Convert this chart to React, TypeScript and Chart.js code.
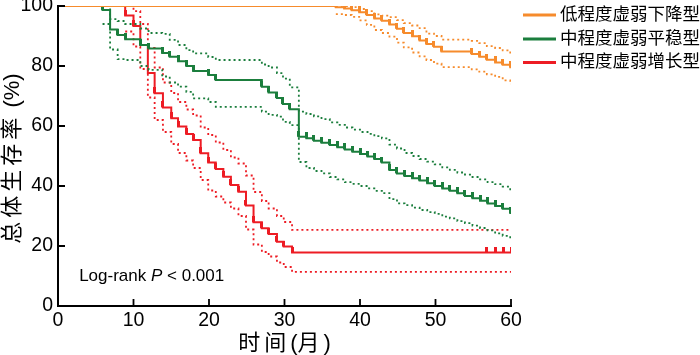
import React, { useEffect, useRef } from 'react';
import { Chart, registerables } from 'chart.js';

Chart.register(...registerables);

const W = 700;
const H = 355;

const xTickValues = [0, 10, 20, 30, 40, 50, 60];
const yTickValues = [0, 20, 40, 60, 80, 100];

const xTitle = '时间(月)';
const yTitle = '总体生存率 (%)';

const groupLabels = ['低程度虚弱下降型', '中程度虚弱平稳型', '中程度虚弱增长型'];
const groupColors = ['#F68B2C', '#1B7E3D', '#ED1C24'];

// 低程度虚弱下降型
const lowTimes = [0, 36.8, 37.9, 38.9, 39.9, 40.9, 41.9, 42.9, 43.9, 44.9, 45.8, 46.9, 47.9, 48.8, 49.8, 50.8, 54.8, 55.8, 56.8, 57.9, 58.9, 59.9, 60];
const lowSurv = [100, 99.6, 99.2, 98.6, 97.9, 97.0, 95.8, 95.1, 93.8, 92.4, 91.0, 89.9, 88.5, 87.3, 86.4, 84.8, 84.0, 83.1, 82.1, 81.2, 80.4, 79.6, 79.6];
const lowLower = [null, 97.3, 97.0, 96.4, 95.2, 93.7, 92.0, 91.0, 89.8, 87.8, 86.2, 84.5, 83.2, 82.0, 80.8, 79.6, 78.9, 78.1, 77.2, 76.4, 75.2, 74.0, 74.0];
const lowUpper = [null, 100, 100, 99.6, 99.0, 98.3, 97.2, 96.8, 96.3, 95.3, 94.3, 93.5, 92.6, 90.8, 90.0, 88.8, 88.4, 87.6, 86.6, 86.0, 85.2, 83.7, 83.7];
const lowCensor = [36.8, 37.9, 38.9, 39.9, 40.9, 41.9, 42.9, 43.9, 44.9, 45.8, 46.9, 47.9, 48.8, 49.8, 50.8, 54.8, 55.8, 56.8, 57.9, 58.9, 59.9];

// 中程度虚弱平稳型
const midTimes = [0, 5.9, 6.9, 7.9, 8.9, 10.9, 12.0, 13.8, 14.8, 15.9, 17.0, 17.9, 19.9, 20.9, 27.0, 27.9, 29.0, 29.8, 30.7, 31.9, 32.9, 33.9, 34.9, 36.0, 37.0, 38.0, 39.0, 40.0, 41.0, 41.9, 42.9, 43.9, 44.9, 45.9, 46.9, 47.9, 48.9, 49.9, 50.9, 51.9, 52.9, 53.9, 54.9, 55.9, 56.9, 57.9, 58.9, 59.9, 60];
const midSurv = [100, 98.7, 92.2, 90.3, 88.9, 87.0, 85.8, 84.3, 83.1, 81.6, 80.0, 78.3, 77.0, 75.3, 73.1, 71.2, 69.3, 67.3, 65.6, 56.4, 55.9, 55.1, 54.4, 53.7, 52.9, 52.2, 51.4, 50.7, 49.8, 49.0, 47.8, 45.3, 44.2, 43.3, 42.6, 41.8, 40.9, 40.0, 39.2, 38.4, 37.6, 36.7, 35.9, 35.1, 34.2, 33.3, 32.4, 31.0, 31.0];
const midLower = [null, 94.0, 85.5, 82.3, 82.0, 80.0, 78.7, 76.5, 74.5, 73.1, 71.4, 69.2, 68.0, 66.4, 64.8, 63.7, 63.1, 61.4, 60.3, 48.0, 46.0, 45.0, 44.2, 43.0, 42.2, 41.3, 40.7, 40.0, 39.2, 38.4, 37.6, 35.6, 34.2, 33.6, 32.8, 32.0, 31.3, 30.7, 29.8, 29.2, 28.3, 27.6, 26.8, 26.0, 25.2, 24.2, 23.4, 22.5, 22.5];
const midUpper = [null, 100, 95.6, 95.0, 94.0, 92.5, 91.0, 90.7, 88.7, 87.0, 85.3, 84.2, 83.0, 82.0, 80.5, 79.5, 77.6, 75.8, 72.9, 64.8, 64.0, 63.2, 62.3, 61.2, 60.4, 59.5, 58.8, 58.0, 57.4, 56.6, 55.9, 53.8, 52.5, 51.0, 50.0, 49.0, 48.1, 47.2, 46.2, 45.4, 44.5, 43.8, 43.0, 42.2, 41.3, 40.6, 39.8, 38.9, 38.9];
const midCensor = [5.9, 7.9, 8.9, 10.9, 12.0, 13.8, 14.8, 15.9, 17.0, 17.9, 19.9, 20.9, 27.0, 27.9, 29.0, 29.8, 30.7, 31.9, 32.9, 33.9, 34.9, 36.0, 37.0, 38.0, 39.0, 40.0, 41.0, 41.9, 42.9, 43.9, 44.9, 45.9, 46.9, 47.9, 48.9, 49.9, 50.9, 51.9, 52.9, 53.9, 54.9, 55.9, 56.9, 57.9, 58.9, 59.9];

// 中程度虚弱增长型
const highTimes = [0, 8.9, 10.0, 10.9, 11.9, 12.8, 13.9, 15.0, 15.9, 17.0, 17.9, 18.9, 19.9, 20.9, 21.9, 22.9, 23.9, 24.9, 25.9, 27.0, 27.9, 29.0, 29.9, 31.0, 60];
const highSurv = [100, 96.8, 93.3, 87.0, 77.7, 70.9, 66.2, 62.6, 59.8, 57.3, 55.3, 50.9, 47.8, 45.7, 43.1, 40.3, 38.1, 33.5, 27.9, 25.9, 24.0, 21.4, 19.8, 17.8, 17.8];
const highLower = [null, 91.5, 86.5, 79.0, 69.5, 62.0, 58.0, 54.0, 51.0, 48.5, 46.0, 42.0, 38.5, 36.5, 34.5, 32.5, 30.0, 25.5, 20.5, 18.0, 16.5, 14.5, 13.0, 11.4, 11.4];
const highUpper = [null, 100, 98.3, 94.0, 86.0, 79.5, 74.5, 71.0, 68.0, 65.5, 63.5, 59.5, 57.0, 54.5, 52.0, 49.5, 47.5, 43.5, 38.0, 35.0, 32.5, 30.0, 28.0, 25.4, 25.4];
const highCensor = [8.0, 8.9, 10.0, 12.8, 13.9, 15.0, 15.9, 17.0, 17.9, 18.9, 19.9, 20.9, 21.9, 22.9, 23.9, 24.9, 25.9, 27.0, 27.9, 29.0, 29.9, 31.0, 56.8, 58.0, 59.0, 60];

const annotationText = ['Log-rank ', 'P', ' < 0.001'];
const annotationAt = { x: 2.8, y: 8.3 };

const LATIN = '"Liberation Sans", Arial, "Noto Sans CJK SC", sans-serif';

type Num = number | null;

function toPoints(times: number[], vals: Num[]) {
  const out: { x: number; y: number }[] = [];
  times.forEach((t, i) => {
    const v = vals[i];
    if (v !== null && v !== undefined) out.push({ x: t, y: v });
  });
  return out;
}

function stepLookup(times: number[], vals: number[], t: number) {
  let v = vals[0];
  for (let i = 0; i < times.length; i++) {
    if (times[i] <= t + 1e-9) v = vals[i];
  }
  return v;
}

const isCJK = (ch: string) => /[\u3400-\u9fff]/.test(ch);

// draws text centred on (0,0) of the current transform, with extra spacing after CJK glyphs
function drawSpaced(ctx: CanvasRenderingContext2D, text: string, spacing: number) {
  const chars = Array.from(text);
  const adv = chars.map((c) => ctx.measureText(c).width + (isCJK(c) ? spacing : 0));
  let total = adv.reduce((a, b) => a + b, 0);
  if (isCJK(chars[chars.length - 1])) total -= spacing;
  let x = -total / 2;
  ctx.textAlign = 'left';
  ctx.textBaseline = 'middle';
  chars.forEach((c, i) => {
    ctx.fillText(c, x, 0);
    x += adv[i];
  });
}

export default function App() {
  const ref = useRef<HTMLCanvasElement>(null);

  useEffect(() => {
    const canvas = ref.current;
    if (!canvas) return;
    document.body.style.margin = '0';

    const makeTick = (color: string) => {
      const c = document.createElement('canvas');
      c.width = 3;
      c.height = 12;
      const g = c.getContext('2d')!;
      g.fillStyle = color;
      g.fillRect(0, 0, 3, 6);
      return c;
    };

    const groups = [
      { t: lowTimes, s: lowSurv, lo: lowLower, hi: lowUpper, c: lowCensor },
      { t: midTimes, s: midSurv, lo: midLower, hi: midUpper, c: midCensor },
      { t: highTimes, s: highSurv, lo: highLower, hi: highUpper, c: highCensor },
    ];

    const datasets: any[] = [];
    groups.forEach((g, gi) => {
      const color = groupColors[gi];
      datasets.push({
        label: groupLabels[gi],
        data: toPoints(g.t, g.s),
        borderColor: color,
        borderWidth: 2,
        stepped: 'before',
        pointRadius: 0,
        fill: false,
      });
      datasets.push({
        label: groupLabels[gi] + ' censor',
        data: g.c.map((t) => ({ x: t, y: stepLookup(g.t, g.s, t) })),
        showLine: false,
        pointStyle: makeTick(color),
        pointRadius: 3,
        pointHoverRadius: 3,
      });
      [g.lo, g.hi].forEach((arr, k) => {
        datasets.push({
          label: groupLabels[gi] + (k === 0 ? ' lower' : ' upper'),
          data: toPoints(g.t, arr),
          borderColor: color,
          borderWidth: 1.8,
          borderDash: [2, 3],
          stepped: 'before',
          pointRadius: 0,
          fill: false,
        });
      });
    });

    const inwardTicks = {
      id: 'inwardTicks',
      afterDraw(chart: any) {
        const { ctx, chartArea } = chart;
        const xs = chart.scales.x;
        const ys = chart.scales.y;
        ctx.save();
        ctx.strokeStyle = '#000';
        ctx.lineWidth = 1.8;
        ctx.beginPath();
        xTickValues.forEach((v) => {
          const px = xs.getPixelForValue(v);
          ctx.moveTo(px, chartArea.bottom);
          ctx.lineTo(px, chartArea.bottom - 7);
        });
        yTickValues.forEach((v) => {
          const py = ys.getPixelForValue(v);
          ctx.moveTo(chartArea.left, py);
          ctx.lineTo(chartArea.left + 7, py);
        });
        ctx.stroke();
        ctx.restore();
      },
    };

    const axisTitles = {
      id: 'axisTitles',
      afterDraw(chart: any) {
        const { ctx, chartArea } = chart;
        ctx.save();
        ctx.fillStyle = '#000';
        ctx.font = '22px ' + LATIN;
        ctx.save();
        ctx.translate((chartArea.left + chartArea.right) / 2, 344);
        drawSpaced(ctx, xTitle, 4);
        ctx.restore();
        ctx.save();
        ctx.translate(12.5, (chartArea.top + chartArea.bottom) / 2 + 2.5);
        ctx.rotate(-Math.PI / 2);
        drawSpaced(ctx, yTitle, 4);
        ctx.restore();
        ctx.restore();
      },
    };

    const legendRows = [15, 39, 62.5];
    const sideLegend = {
      id: 'sideLegend',
      afterDraw(chart: any) {
        const { ctx } = chart;
        ctx.save();
        ctx.font = '17.5px ' + LATIN;
        ctx.textBaseline = 'middle';
        ctx.textAlign = 'left';
        groupLabels.forEach((lab, i) => {
          const y = legendRows[i];
          ctx.strokeStyle = groupColors[i];
          ctx.lineWidth = 3;
          ctx.beginPath();
          ctx.moveTo(523, y);
          ctx.lineTo(556, y);
          ctx.stroke();
          ctx.fillStyle = '#000';
          ctx.fillText(lab, 560, y);
        });
        ctx.restore();
      },
    };

    const logRank = {
      id: 'logRank',
      afterDraw(chart: any) {
        const { ctx } = chart;
        const px = chart.scales.x.getPixelForValue(annotationAt.x);
        const py = chart.scales.y.getPixelForValue(annotationAt.y);
        ctx.save();
        ctx.fillStyle = '#000';
        ctx.textBaseline = 'alphabetic';
        ctx.textAlign = 'left';
        let x = px;
        annotationText.forEach((part, i) => {
          ctx.font = (i === 1 ? 'italic ' : '') + '17px ' + LATIN;
          ctx.fillText(part, x, py);
          x += ctx.measureText(part).width;
        });
        ctx.restore();
      },
    };

    const tickFont = { family: LATIN, size: 19.5 };

    const chart = new Chart(canvas, {
      type: 'line',
      data: { datasets },
      options: {
        responsive: false,
        animation: false,
        layout: { padding: { top: 6, right: 189, left: 0, bottom: 0 } },
        plugins: { legend: { display: false }, tooltip: { enabled: false } },
        events: [],
        scales: {
          x: {
            type: 'linear',
            min: 0,
            max: 60,
            afterBuildTicks: (s: any) => {
              s.ticks = xTickValues.map((v) => ({ value: v }));
            },
            afterFit: (s: any) => {
              s.height = 49;
              s.paddingLeft = 0;
              s.paddingRight = 0;
            },
            grid: { display: false, drawTicks: false, tickLength: 0 },
            border: { display: true, color: '#000', width: 2 },
            ticks: { font: tickFont, color: '#000', padding: 3, maxRotation: 0, autoSkip: false },
            title: { display: false },
          },
          y: {
            type: 'linear',
            min: 0,
            max: 100,
            afterBuildTicks: (s: any) => {
              s.ticks = yTickValues.map((v) => ({ value: v }));
            },
            afterFit: (s: any) => {
              s.width = 58;
              s.paddingTop = 0;
              s.paddingBottom = 0;
            },
            grid: { display: false, drawTicks: false, tickLength: 0 },
            border: { display: true, color: '#000', width: 2 },
            ticks: { font: tickFont, color: '#000', padding: 5, autoSkip: false },
            title: { display: false },
          },
        },
      } as any,
      plugins: [inwardTicks, axisTitles, sideLegend, logRank],
    });

    return () => chart.destroy();
  }, []);

  return (
    <div style={{ position: 'fixed', left: 0, top: 0, width: W, height: H }}>
      <canvas ref={ref} width={W} height={H} style={{ display: 'block', width: W, height: H }} />
    </div>
  );
}
